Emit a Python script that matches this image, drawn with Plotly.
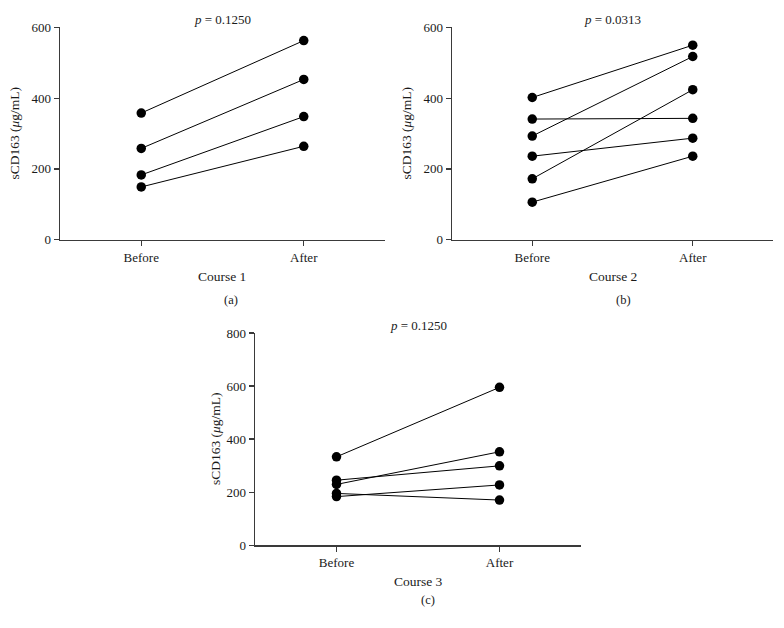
import plotly.graph_objects as go

W, H = 784, 628

categories = ["Before", "After"]

course1_before = [358, 258, 183, 149]
course1_after = [563, 453, 348, 264]

course2_before = [402, 293, 172, 341, 236, 106]
course2_after = [550, 518, 424, 343, 287, 236]

course3_before = [333, 245, 229, 195, 183]
course3_after = [595, 299, 352, 170, 227]

p_values = ["0.1250", "0.0313", "0.1250"]
x_titles = ["Course 1", "Course 2", "Course 3"]
panel_labels = ["(a)", "(b)", "(c)"]
y_ranges = [[0, 600], [0, 600], [0, 800]]
y_ticks = [[0, 200, 400, 600], [0, 200, 400, 600], [0, 200, 400, 600, 800]]

# pixel boxes of the plot areas: (left, right, top, bottom)
boxes = [(60, 385, 21, 238.3), (452, 773, 21, 238.3), (255, 581, 334, 551.3)]
p_y = [13, 13, 326]
xt_y = [276, 276, 589]
lab_pos = [(231, 300), (623, 300), (428, 608)]
ytitle_x = [15, 407, 215]

FONT = "Liberation Serif, Times New Roman, serif"
AX = "#3a3a3a"
TXT = "#1a1a1a"

data = [(course1_before, course1_after),
        (course2_before, course2_after),
        (course3_before, course3_after)]

fig = go.Figure()
annotations = []

def px(x):
    return x / W

def py(y):
    return 1 - y / H

for i, (bef, aft) in enumerate(data):
    n = i + 1
    xa = "x" if n == 1 else f"x{n}"
    ya = "y" if n == 1 else f"y{n}"
    for b, a in zip(bef, aft):
        fig.add_trace(go.Scatter(
            x=[0, 1], y=[b, a], mode="lines+markers",
            line=dict(color="black", width=1),
            marker=dict(color="black", size=9.5),
            xaxis=xa, yaxis=ya, showlegend=False, hoverinfo="skip"))
    l, r, t, btm = boxes[i]
    xk = "xaxis" if n == 1 else f"xaxis{n}"
    yk = "yaxis" if n == 1 else f"yaxis{n}"
    fig.layout[xk] = dict(
        domain=[px(l), px(r)], range=[-0.5, 1.5], anchor=ya,
        tickmode="array", tickvals=[0, 1], ticktext=categories,
        showline=True, linecolor=AX, linewidth=1.4,
        ticks="outside", ticklen=5, tickcolor=AX, tickwidth=1.2,
        showgrid=False, zeroline=False,
        tickfont=dict(family=FONT, size=13, color=TXT),
        fixedrange=True)
    fig.layout[yk] = dict(
        domain=[py(btm), py(t)], range=y_ranges[i], anchor=xa,
        tickmode="array", tickvals=y_ticks[i],
        showline=True, linecolor=AX, linewidth=1.4,
        ticks="outside", ticklen=5, tickcolor=AX, tickwidth=1.2,
        showgrid=False, zeroline=False,
        tickfont=dict(family=FONT, size=13, color=TXT),
        fixedrange=True)
    cx = (l + r) / 2
    annotations.append(dict(
        x=px(cx), y=py(p_y[i]), xref="paper", yref="paper",
        text=f"<i>p</i> = {p_values[i]}", showarrow=False,
        xanchor="center", yanchor="middle",
        font=dict(family=FONT, size=13, color=TXT)))
    annotations.append(dict(
        x=px(cx), y=py(xt_y[i]), xref="paper", yref="paper",
        text=x_titles[i], showarrow=False,
        xanchor="center", yanchor="middle",
        font=dict(family=FONT, size=13.5, color=TXT)))
    annotations.append(dict(
        x=px(lab_pos[i][0]), y=py(lab_pos[i][1]), xref="paper", yref="paper",
        text=panel_labels[i], showarrow=False,
        xanchor="center", yanchor="middle",
        font=dict(family=FONT, size=12.5, color=TXT)))
    annotations.append(dict(
        x=px(ytitle_x[i]), y=py((t + btm) / 2), xref="paper", yref="paper",
        text="sCD163 (<i>μ</i>g/mL)", showarrow=False, textangle=-90,
        xanchor="center", yanchor="middle",
        font=dict(family=FONT, size=13.5, color=TXT)))

fig.update_layout(
    width=W, height=H,
    margin=dict(l=0, r=0, t=0, b=0),
    paper_bgcolor="white", plot_bgcolor="white",
    annotations=annotations,
    showlegend=False)

fig.write_html(
    "out.html",
    config={"displayModeBar": False, "staticPlot": True},
    post_script="document.body.style.margin='0';document.body.style.overflow='hidden';")
